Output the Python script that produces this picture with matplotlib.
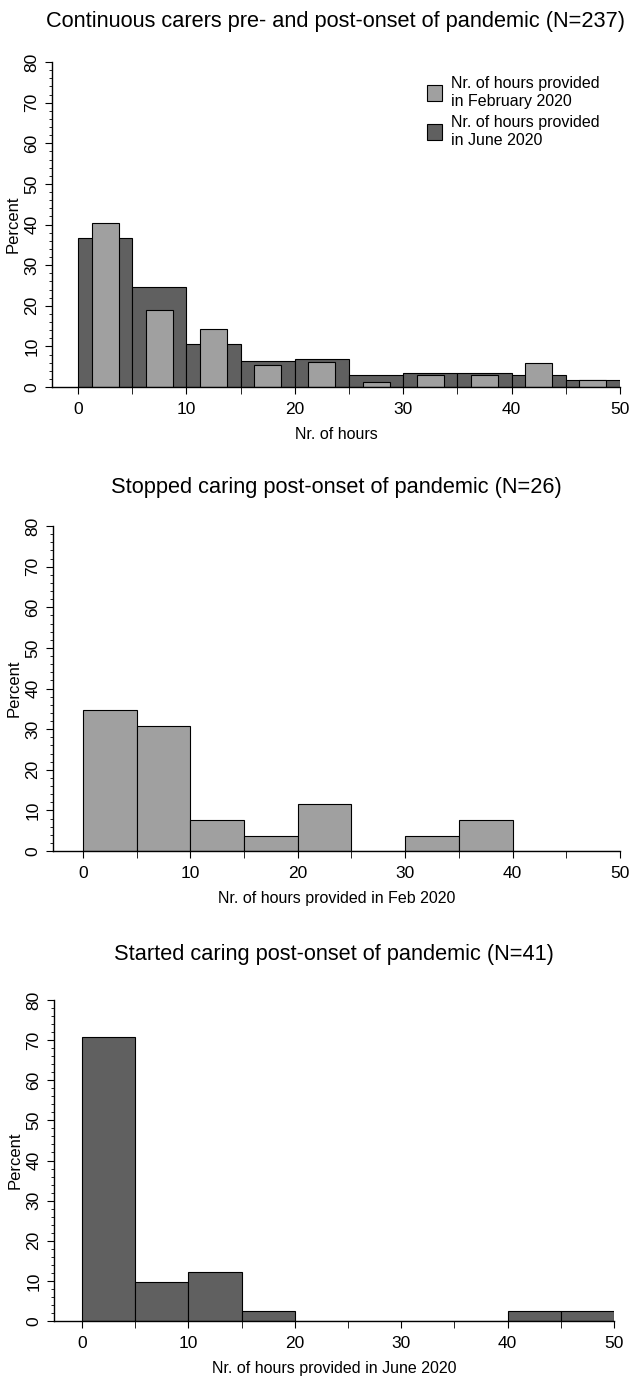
import matplotlib.pyplot as plt
from matplotlib.patches import Patch
from matplotlib.ticker import MultipleLocator

plt.rcParams['font.family'] = ['Liberation Sans', 'DejaVu Sans']

# bins of 5 hours
bin_left = [0, 5, 10, 15, 20, 25, 30, 35, 40, 45]

# continuous carers (N=237), percent
june_cont = [36.7, 24.7, 10.5, 6.3, 6.8, 3.0, 3.5, 3.5, 3.0, 1.7]
feb_cont = [40.3, 19.0, 14.3, 5.3, 6.2, 1.3, 3.0, 3.0, 5.9, 1.7]

# stopped caring (N=26)
feb_stopped = [34.6, 30.8, 7.7, 3.8, 11.5, 0, 3.8, 7.7, 0, 0]

# started caring (N=41)
june_started = [70.7, 9.8, 12.2, 2.4, 0, 0, 0, 0, 2.4, 2.4]

light = '#a0a0a0'
dark = '#606060'

W, H = 631, 1376
fig = plt.figure(figsize=(W / 100, H / 100), dpi=100)


def make_ax(left_px, zero_px, fifty_px, top_px, bottom_px):
    ax = fig.add_axes([left_px / W, 1 - bottom_px / H, (fifty_px - left_px) / W, (bottom_px - top_px) / H])
    per = (fifty_px - zero_px) / 50
    ax.set_xlim(-(zero_px - left_px) / per, 50)
    ax.set_ylim(0, 80)
    for s in ['top', 'right']:
        ax.spines[s].set_visible(False)
    ax.spines['left'].set_linewidth(1.0)
    ax.spines['bottom'].set_linewidth(1.0)
    ax.set_xticks([0, 10, 20, 30, 40, 50])
    ax.xaxis.set_minor_locator(MultipleLocator(5))
    ax.yaxis.set_major_locator(MultipleLocator(10))
    ax.yaxis.set_minor_locator(MultipleLocator(2))
    ax.tick_params(axis='x', which='major', length=5, labelsize=12.5, pad=6)
    ax.tick_params(axis='x', which='minor', length=5)
    ax.tick_params(axis='y', which='major', length=5, labelsize=12.5, labelrotation=90, pad=4)
    ax.tick_params(axis='y', which='minor', length=2.5)
    for lab in ax.get_yticklabels():
        lab.set_verticalalignment('center')
    ax.set_ylabel('Percent', fontsize=12, labelpad=3)
    return ax


# panel 1
ax1 = make_ax(52, 78, 620, 62, 387)
ax1.bar(bin_left, june_cont, width=5, align='edge', color=dark, edgecolor='black', linewidth=0.8)
ax1.bar([b + 2.5 for b in bin_left], feb_cont, width=2.5, color=light, edgecolor='black', linewidth=0.8)
ax1.set_xlabel('Nr. of hours', fontsize=11.5, labelpad=7)
ax1.set_title('Continuous carers pre- and post-onset of pandemic (N=237)', fontsize=15.7, pad=25)
handles = [Patch(facecolor=light, edgecolor='black', linewidth=0.8),
           Patch(facecolor=dark, edgecolor='black', linewidth=0.8)]
ax1.legend(handles, ['Nr. of hours provided\nin February 2020', 'Nr. of hours provided\nin June 2020'],
           loc='upper right', bbox_to_anchor=(0.99, 1.0), frameon=False, fontsize=11.5,
           handlelength=0.9, handleheight=1.2, handletextpad=0.6, labelspacing=0.4)

# panel 2
ax2 = make_ax(53, 83, 620, 526, 851)
ax2.bar(bin_left, feb_stopped, width=5, align='edge', color=light, edgecolor='black', linewidth=0.8)
ax2.set_xlabel('Nr. of hours provided in Feb 2020', fontsize=11.5, labelpad=7)
ax2.set_title('Stopped caring post-onset of pandemic (N=26)', fontsize=15.7, pad=24)

# panel 3
ax3 = make_ax(54, 82, 614, 1000, 1321)
ax3.bar(bin_left, june_started, width=5, align='edge', color=dark, edgecolor='black', linewidth=0.8)
ax3.set_xlabel('Nr. of hours provided in June 2020', fontsize=11.5, labelpad=7)
ax3.set_title('Started caring post-onset of pandemic (N=41)', fontsize=15.7, pad=29)

fig.savefig('out.png', dpi=100)
